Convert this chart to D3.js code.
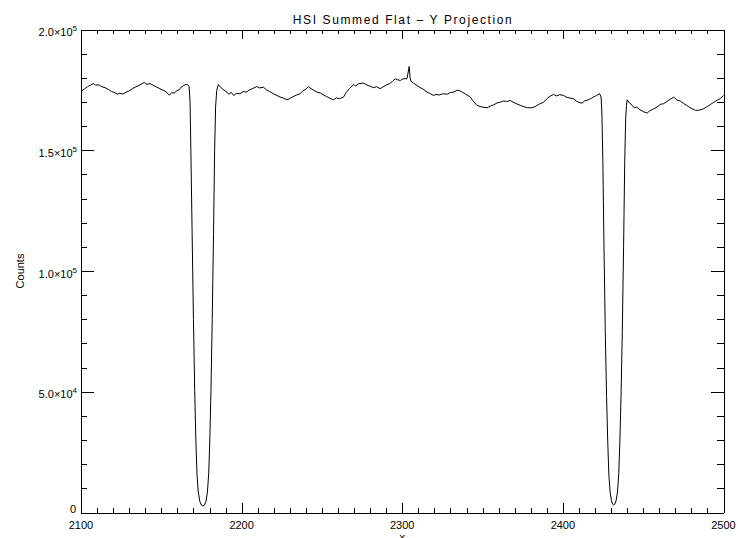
<!DOCTYPE html>
<meta charset="utf-8">
<head>
<title>HSI Summed Flat - Y Projection</title>
<style>
  body { margin: 0; background: #fff; }
  text { font-family: "Liberation Sans", Arial, sans-serif; fill: #000; }
  .axis path, .axis line { stroke: #000; stroke-width: 1; shape-rendering: crispEdges; }
</style>
</head>
<body>
<svg width="738" height="538"></svg>
<script src="https://cdn.jsdelivr.net/npm/d3@7/dist/d3.min.js"></script>
<script>

// pixel (x) positions along the detector
var pixels = [
  2100, 2102, 2104, 2106, 2107.7, 2109, 2111, 2113, 2115, 2117, 2119, 2121, 2122.5, 2124, 2126,
  2128, 2130, 2132, 2134, 2136, 2138, 2139.5, 2141, 2143, 2145, 2147, 2149, 2151, 2153, 2155,
  2156.5, 2158, 2159.6, 2161, 2162.5, 2164, 2165.5, 2166.5,
  // first dip
  2167.3, 2167.9, 2168.4, 2169.2, 2170.0, 2170.8, 2171.5, 2172.2, 2173, 2174, 2175, 2175.8,
  2176.8, 2177.8, 2178.7, 2179.5, 2180.2, 2180.9, 2181.7, 2182.5, 2183.2, 2183.8, 2184.5, 2185.5,
  2187, 2189, 2190.8, 2192, 2193.5, 2195, 2197, 2199, 2201, 2203, 2205, 2207, 2209.5, 2211,
  2213.6, 2215.5, 2217.5, 2219.8, 2222, 2224, 2226, 2228.2, 2230, 2232, 2234, 2236.4, 2238, 2240,
  2241.6, 2243, 2245, 2247, 2249, 2251, 2253, 2255, 2257.2, 2259, 2261, 2263.4, 2265, 2267,
  2269.7, 2271, 2273, 2275.9, 2278, 2280, 2282.1, 2284, 2286.3, 2288, 2290.5, 2292, 2294, 2295.6,
  2297, 2298.8, 2300.5, 2302.9, 2303.6, 2304.3, 2304.9, 2305.4, 2307, 2309.2, 2311, 2313, 2315.4,
  2317, 2319.5, 2321, 2323, 2325.7, 2328, 2330, 2332, 2334, 2335.1, 2337, 2339, 2342.4, 2344,
  2346.5, 2349, 2352.8, 2355, 2357, 2359, 2361.1, 2363, 2365, 2367.3, 2369, 2371, 2373.5, 2376,
  2378, 2380.8, 2383, 2385, 2388, 2390, 2392, 2394.2, 2396, 2398, 2400.5, 2402, 2404, 2406.7,
  2408.5, 2410, 2411.9, 2413.5, 2415, 2417.1, 2419, 2421, 2422.9,
  // second dip
  2423.8, 2424.3, 2424.9, 2425.6, 2426.4, 2427.2, 2427.9, 2428.6, 2429.4, 2430.3, 2431, 2431.6,
  2432.3, 2433.1, 2434, 2434.8, 2435.5, 2436.2, 2437, 2437.8, 2438.5, 2439.1, 2439.6, 2440,
  2441.5, 2443, 2444.5, 2446, 2448, 2450, 2452.5, 2454, 2456.6, 2458, 2460.7, 2462.8, 2465, 2467,
  2469, 2471, 2473, 2475.3, 2477, 2479, 2482.6, 2485, 2487.7, 2490, 2492, 2494, 2496, 2498, 2500
];

// summed counts at each pixel
var counts = [
  174500, 175300, 176300, 177000, 177600, 177000, 177100, 176300, 175900, 175200, 174300, 173900, 173200, 173600, 173300,
  174000, 174600, 175500, 176200, 176800, 177600, 178000, 177300, 177600, 176900, 176200, 175500, 174900, 174200, 172800,
  173900, 173600, 174600, 175000, 176200, 176800, 177300, 177000,
  176500, 170000, 150000, 115000, 80000, 50000, 30000, 16000, 8500, 4500, 3000, 2700,
  3000, 4500, 8500, 16000, 30000, 50000, 80000, 115000, 150000, 168000, 174800, 177200,
  176000, 174900, 174100, 173200, 174000, 172700, 173600, 173400, 174300, 174100, 175000, 175600, 176400, 175800,
  176100, 175000, 174300, 173400, 172700, 172000, 171600, 170900, 171400, 172200, 172800, 173400, 174500, 175300,
  176400, 175600, 174800, 174000, 173700, 172900, 172200, 171500, 170900, 171700, 171400, 172000, 173800, 175500,
  177200, 176600, 177600, 177800, 177000, 176500, 175900, 176300, 175500, 176200, 177200, 177500, 178600, 179600,
  179200, 178900, 179600, 179600, 182000, 184700, 180000, 178600, 177800, 176800, 176000, 175300, 174100,
  173600, 172700, 173100, 172900, 173400, 173200, 173900, 174100, 174800, 174800, 174200, 173400, 172000, 170500,
  168600, 168000, 167600, 168300, 168800, 169600, 169900, 170400, 170200, 170600, 169900, 169300, 168600, 168000,
  167600, 167600, 168200, 169000, 169900, 171300, 172400, 173100, 172500, 173000, 172700, 172000, 171700, 171300,
  170300, 169800, 169500, 170400, 170700, 171300, 172000, 172700, 173400,
  172000, 165000, 145000, 110000, 75000, 48000, 30000, 16000, 8500, 4800, 3400, 3100,
  3400, 4800, 8500, 16000, 30000, 48000, 75000, 110000, 145000, 163000, 168500, 170900,
  169600, 168700, 167500, 167900, 166800, 166000, 165400, 166300, 167200, 167600, 169000, 169300, 170300, 171200,
  172000, 170800, 170400, 169300, 168600, 167700, 166500, 166600, 167200, 168200, 169000, 169900, 170700, 171400, 172700
];

var xMajor = [2100, 2200, 2300, 2400, 2500];
var yMajor = [0, 50000, 100000, 150000, 200000];
var yLabels = ["0", "5.0×10|4", "1.0×10|5", "1.5×10|5", "2.0×10|5"];

var svg = d3.select("svg"),
    plotL = 81, plotR = 723.5, plotT = 29.5, plotB = 512.5;

var x = d3.scaleLinear().domain([2100, 2500]).range([plotL, plotR]);
var y = d3.scaleLinear().domain([0, 200000]).range([plotB, plotT]);

var xTickLen = 0.02 * (plotB - plotT),
    yTickLen = 0.02 * (plotR - plotL);

var xMinor = d3.range(2100, 2501, 10),
    yMinor = d3.range(0, 200001, 10000);

function drawAxis(axis, tx, ty) {
  svg.append("g").attr("class", "axis")
    .attr("transform", "translate(" + tx + "," + ty + ")")
    .call(axis)
    .call(function(g) { g.selectAll("text").remove(); });
}

// bottom & top (inward ticks)
drawAxis(d3.axisBottom(x).tickValues(xMajor).tickSize(-xTickLen).tickSizeOuter(0), 0, plotB);
drawAxis(d3.axisBottom(x).tickValues(xMinor).tickSize(-xTickLen / 2).tickSizeOuter(0), 0, plotB);
drawAxis(d3.axisTop(x).tickValues(xMajor).tickSize(-xTickLen).tickSizeOuter(0), 0, plotT);
drawAxis(d3.axisTop(x).tickValues(xMinor).tickSize(-xTickLen / 2).tickSizeOuter(0), 0, plotT);
// left & right
drawAxis(d3.axisLeft(y).tickValues(yMajor).tickSize(-yTickLen).tickSizeOuter(0), plotL, 0);
drawAxis(d3.axisLeft(y).tickValues(yMinor).tickSize(-yTickLen / 2).tickSizeOuter(0), plotL, 0);
drawAxis(d3.axisRight(y).tickValues(yMajor).tickSize(-yTickLen).tickSizeOuter(0), plotR, 0);
drawAxis(d3.axisRight(y).tickValues(yMinor).tickSize(-yTickLen / 2).tickSizeOuter(0), plotR, 0);

// x tick labels
svg.append("g").selectAll("text")
  .data(xMajor)
  .join("text")
  .attr("x", function(d) { return x(d); })
  .attr("y", 528.5)
  .attr("text-anchor", "middle")
  .style("font-size", "11px")
  .text(function(d) { return d; });

// y tick labels with exponents
var yl = svg.append("g").selectAll("text")
  .data(yMajor)
  .join("text")
  .attr("x", 77)
  .attr("y", function(d, i) { return y(d) + (i === 0 ? 0 : 6.5); })
  .attr("text-anchor", "end")
  .style("font-size", "11px");

yl.each(function(d, i) {
  var parts = yLabels[i].split("|"), t = d3.select(this);
  if (parts.length === 1) { t.attr("x", 76).text(parts[0]); return; }
  t.append("tspan").text(parts[0]);
  t.append("tspan").attr("dy", -5).style("font-size", "8px").text(parts[1]);
});

// the line
var line = d3.line()
  .x(function(d, i) { return x(pixels[i]); })
  .y(function(d) { return y(d); });

svg.append("path")
  .datum(counts)
  .attr("fill", "none")
  .attr("stroke", "#000")
  .attr("stroke-width", 1)
  .attr("stroke-linejoin", "round")
  .attr("d", line);

// title and axis titles
svg.append("text")
  .attr("x", (plotL + plotR) / 2)
  .attr("y", 23.5)
  .attr("text-anchor", "middle")
  .attr("textLength", 219)
  .attr("lengthAdjust", "spacing")
  .style("font-size", "12px")
  .text("HSI Summed Flat \u2013 Y Projection");

svg.append("text")
  .attr("transform", "translate(24," + ((plotT + plotB) / 2) + ") rotate(-90)")
  .attr("text-anchor", "middle")
  .style("font-size", "11px")
  .text("Counts");

svg.append("text")
  .attr("x", (plotL + plotR) / 2)
  .attr("y", 541)
  .attr("text-anchor", "middle")
  .style("font-size", "11px")
  .text("x");

</script>
</body>
